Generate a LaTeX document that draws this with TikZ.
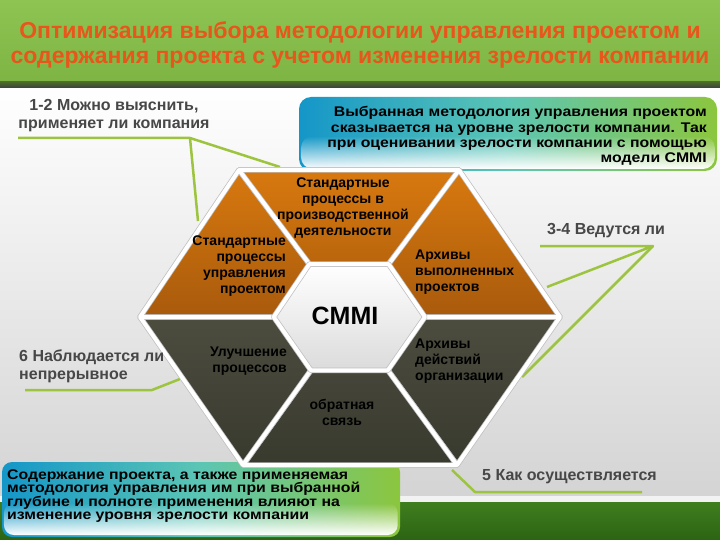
\documentclass[tikz,border=0pt]{standalone}
\usepackage{fontspec}
\setmainfont{Liberation Sans}
\newfontfamily\widefont{Liberation Sans}[FakeStretch=1.13]
\usetikzlibrary{positioning,calc,fadings}

\definecolor{titleorange}{HTML}{E8561C}
\definecolor{grasslight}{HTML}{8DC452}
\definecolor{grassmid}{HTML}{7DB443}
\definecolor{grassdeep}{HTML}{3F7E1F}
\definecolor{grassdark}{HTML}{2C6412}
\definecolor{pointergreen}{HTML}{9DC43E}
\definecolor{labelgray}{HTML}{474747}
\definecolor{pieceorange}{HTML}{D8790F}
\definecolor{pieceorangedark}{HTML}{A85A0C}
\definecolor{piecedark}{HTML}{4C4D3F}
\definecolor{piecedarker}{HTML}{393A2E}
\definecolor{boxblue}{HTML}{1496C8}
\definecolor{boxteal}{HTML}{5CC6B4}
\definecolor{boxgreen}{HTML}{8CC63E}

\begin{document}
\begin{tikzpicture}[x=1pt, y=-1pt,
  lbl/.style={font=\fontsize{16}{18}\selectfont\bfseries, text=labelgray, inner sep=0pt},
  piecetext/.style={font=\fontsize{14}{16}\selectfont\bfseries, text=black, inner sep=0pt},
  notetext/.style={font=\widefont\fontsize{14}{15.2}\selectfont\bfseries, text=black, inner sep=0pt},
  pointer/.style={draw=pointergreen, line width=2.5pt, line join=round},
  orangepiece/.style={top color=pieceorange, bottom color=pieceorangedark,
                      draw=black!25, line width=5.5pt, line join=round},
  darkpiece/.style={top color=piecedark, bottom color=piecedarker,
                    draw=black!25, line width=5.5pt, line join=round},
  gap/.style={draw=white, line width=4pt, line join=round},
  notebox/.style={left color=boxblue, right color=boxgreen, middle color=boxteal,
                  rounded corners=12pt}]

\useasboundingbox (0,0) rectangle (720,540);

% slide background
\shade[top color=white, bottom color=black!17] (0,86) rectangle (720,498);
\fill[black!5] (0,496) rectangle (720,502);
\shade[top color=grassdeep, bottom color=grassdark] (0,502) rectangle (720,540);
\shade[top color=grasslight, bottom color=grassmid] (0,0) rectangle (720,82);
\shade[top color=grassmid!60!black, bottom color=black!75] (0,82) rectangle (720,88);

\node[font=\fontsize{23}{25}\selectfont\bfseries, text=titleorange, align=center]
     (title) at (360,45)
     {Оптимизация выбора методологии управления проектом и\\
      содержания проекта с учетом изменения зрелости компании};

% note boxes
\path[notebox] (299,97) rectangle (717,171);
\fill[white, path fading=north, rounded corners=12pt] (301,136) rectangle (715,169);
\path[notebox, rounded corners=10pt] (2,462) rectangle (400,537);
\fill[white, path fading=north, rounded corners=10pt] (4,503) rectangle (398,535);

% pointer lines
\coordinate (u12a) at (18,138);  \coordinate (u12b) at (190,138);
\coordinate (t12a) at (280,167); \coordinate (t12b) at (198,221);
\coordinate (u34a) at (540,246); \coordinate (u34b) at (653,246);
\coordinate (t34a) at (547,287); \coordinate (t34b) at (522,377);
\coordinate (u5a) at (452,470);  \coordinate (u5b) at (475,492); \coordinate (u5c) at (642,492);
\coordinate (u6a) at (25,390);   \coordinate (u6b) at (152,390); \coordinate (u6c) at (180,379);
\draw[pointer] (u12a) -- (u12b) -- (t12a);
\draw[pointer] (u12b) -- (t12b);
\draw[pointer] (u34a) -- (u34b) -- (t34a);
\draw[pointer] (u34b) -- (t34b);
\draw[pointer] (u5a) -- (u5b) -- (u5c);
\draw[pointer] (u6a) -- (u6b) -- (u6c);

% hexagon of six pieces
\coordinate (c)  at (349,317);
\coordinate (v0) at (140,317);
\coordinate (v1) at (239,170);
\coordinate (v2) at (459,170);
\coordinate (v3) at (560,317);
\coordinate (v4) at (457,465);
\coordinate (v5) at (243,465);
\path[orangepiece] (c) -- (v0) -- (v1) -- cycle;
\path[orangepiece] (c) -- (v1) -- (v2) -- cycle;
\path[orangepiece] (c) -- (v2) -- (v3) -- cycle;
\path[darkpiece] (c) -- (v3) -- (v4) -- cycle;
\path[darkpiece] (c) -- (v4) -- (v5) -- cycle;
\path[darkpiece] (c) -- (v5) -- (v0) -- cycle;
\draw[gap] (v0) -- (v1) -- (v2) -- (v3) -- (v4) -- (v5) -- cycle;
\foreach \i in {0,...,5} {
  \draw[gap] (c) -- (v\i);
  \coordinate (h\i) at ($(c)!0.36!(v\i)$);
}
\path[top color=white, bottom color=black!14, draw=black!25, line width=5.5pt,
      line join=round] (h0) -- (h1) -- (h2) -- (h3) -- (h4) -- (h5) -- cycle;
\draw[gap] (h0) -- (h1) -- (h2) -- (h3) -- (h4) -- (h5) -- cycle;

\node[font=\fontsize{25}{28}\selectfont\bfseries] (cmmi) at (345,316) {CMMI};
\node[piecetext, align=center] (stdprod) at (343,208)
     {Стандартные\\процессы в\\производственной\\деятельности};
\node[piecetext, align=right, anchor=east] (stdproj) at (286,266)
     {Стандартные\\процессы\\управления\\проектом};
\node[piecetext, align=left, anchor=west] (archdone) at (415,272)
     {Архивы\\выполненных\\проектов};
\node[piecetext, align=right, anchor=east] (improve) at (287,361)
     {Улучшение\\процессов};
\node[piecetext, align=left, anchor=west] (archorg) at (415,361)
     {Архивы\\действий\\организации};
\node[piecetext, align=center] (feedback) at (342,412) {обратная\\связь};

% question labels
\node[lbl, align=center] (q12) at (114,116) {1-2 Можно выяснить,\\применяет ли компания};
\node[lbl, anchor=west] (q34) at (547,231) {3-4 Ведутся ли};
\node[lbl, align=left, anchor=west] (q6) at (19,366) {6 Наблюдается ли\\непрерывное};
\node[lbl, anchor=west] (q5) at (482,477) {5 Как осуществляется};

% box texts
\node[notetext, align=right, anchor=east] (methodnote) at (707,136)
     {Выбранная методология управления проектом\\
      сказывается на уровне зрелости компании. Так\\
      при оценивании зрелости компании с помощью\\
      модели CMMI};
\node[notetext, font=\widefont\fontsize{14}{13.5}\selectfont\bfseries, align=left,
      anchor=west] (contentnote) at (7,496)
     {Содержание проекта, а также применяемая\\
      методология управления им при выбранной\\
      глубине и полноте применения влияют на\\
      изменение уровня зрелости компании};
\end{tikzpicture}
\end{document}
